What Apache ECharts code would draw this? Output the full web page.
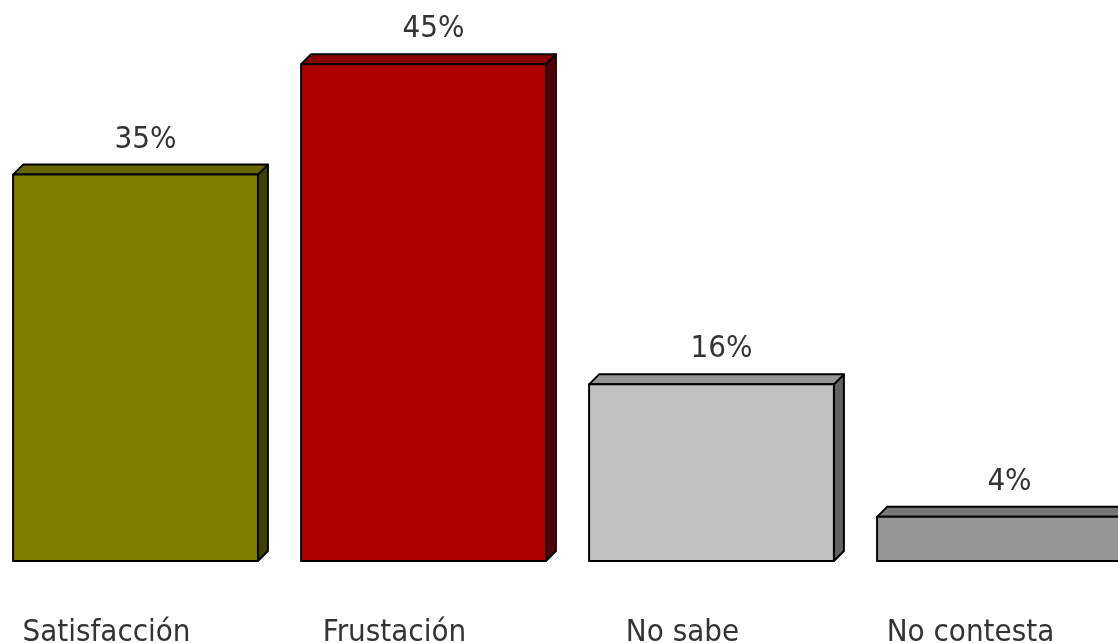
<!DOCTYPE html>
<html>
<head>
<meta charset="utf-8">
<script src="https://cdn.jsdelivr.net/npm/echarts@6/dist/echarts.min.js"></script>
<style>
  html, body { margin: 0; padding: 0; background: #fff; }
  #chart { width: 1118px; height: 643px; }
</style>
</head>
<body>
<div id="chart"></div>
<script>
const categories = ["Satisfacción", "Frustación", "No sabe", "No contesta"];
const values = [35, 45, 16, 4];

// front, top, side shades per bar
const palette = [
  { front: "#808000", top: "#666600", side: "#404000" },
  { front: "#ae0000", top: "#880000", side: "#560000" },
  { front: "#c0c0c0", top: "#969696", side: "#626262" },
  { front: "#969696", top: "#777777", side: "#4c4c4c" },
];

const FONT = "'DejaVu Sans Condensed', 'DejaVu Sans', sans-serif";
const DEPTH = 10;

const chart = echarts.init(document.getElementById("chart"));

function renderBar(params, api) {
  const idx = api.value(0);
  const val = api.value(1);
  const top = api.coord([idx, val]);
  const base = api.coord([idx, 0]);
  const w = api.size([1, 0])[0] * 0.85;
  const x0 = top[0] - w / 2;
  const x1 = top[0] + w / 2;
  const yt = top[1];
  const yb = base[1];
  const d = DEPTH;
  const c = palette[params.dataIndex % palette.length];
  const stroke = { stroke: "#000", lineWidth: 2, lineJoin: "round" };

  return {
    type: "group",
    children: [
      {
        type: "polygon",
        shape: { points: [[x1, yt], [x1 + d, yt - d], [x1 + d, yb - d], [x1, yb]] },
        style: Object.assign({ fill: c.side }, stroke),
      },
      {
        type: "polygon",
        shape: { points: [[x0, yt], [x0 + d, yt - d], [x1 + d, yt - d], [x1, yt]] },
        style: Object.assign({ fill: c.top }, stroke),
      },
      {
        type: "rect",
        shape: { x: x0, y: yt, width: w, height: yb - yt },
        style: Object.assign({ fill: c.front }, stroke),
      },
      {
        type: "text",
        x: top[0] + d,
        y: yt - d - 25,
        style: {
          text: val + "%",
          font: "31px " + FONT,
          fill: "#333",
          align: "center",
          verticalAlign: "middle",
        },
      },
    ],
  };
}

const option = {
  animation: false,
  grid: {
    left: -8.5,
    right: -25.5,
    top: 9,
    bottom: 82,
    containLabel: false,
    outerBoundsMode: "none",
  },
  xAxis: {
    type: "category",
    data: categories,
    axisLine: { show: false },
    axisTick: { show: false },
    splitLine: { show: false },
    axisLabel: {
      interval: 0,
      margin: 54,
      fontFamily: FONT,
      fontSize: 31,
      lineHeight: 36,
      color: "#333",
      padding: [0, 58, 0, 0],
    },
  },
  yAxis: { type: "value", min: 0, max: 50, show: false },
  series: [
    {
      type: "custom",
      renderItem: renderBar,
      data: values.map((v, i) => [i, v]),
    },
  ],
};

chart.setOption(option);
</script>
</body>
</html>
